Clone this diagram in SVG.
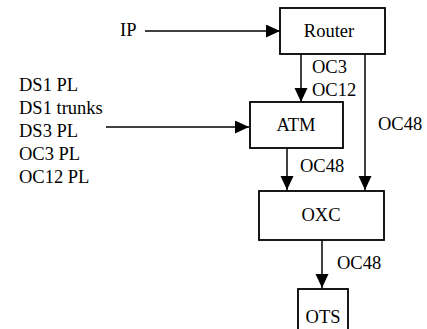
<svg xmlns="http://www.w3.org/2000/svg" width="427" height="329" viewBox="0 0 427 329" font-family="Liberation Serif, DejaVu Serif, serif" font-size="18.5">
<defs>
<style>
.box{fill:#fff;stroke:#000;stroke-width:1.8}
.c{text-anchor:middle}
.ln{fill:none;stroke:#000;stroke-width:1.5}
</style>
<marker id="ah" markerUnits="userSpaceOnUse" markerWidth="15" markerHeight="14" refX="14" refY="6.5" orient="auto">
<path d="M0,0 L14,6.5 L0,13 Z" fill="#000"/>
</marker>
</defs>
<g id="connectors">
<line class="ln" x1="145" y1="31" x2="280" y2="31" marker-end="url(#ah)"/>
<line class="ln" x1="106" y1="127" x2="249" y2="127" marker-end="url(#ah)"/>
<line class="ln" x1="301" y1="54" x2="301" y2="102" marker-end="url(#ah)"/>
<line class="ln" x1="365" y1="54" x2="365" y2="190" marker-end="url(#ah)"/>
<line class="ln" x1="287" y1="148" x2="287" y2="190" marker-end="url(#ah)"/>
<line class="ln" x1="322" y1="240" x2="322" y2="288" marker-end="url(#ah)"/>
<text x="312" y="73">OC3</text>
<text x="312" y="96">OC12</text>
<text x="378" y="130">OC48</text>
<text x="300" y="172">OC48</text>
<text x="337" y="269">OC48</text>
</g>
<g id="inputs">
<text x="120" y="36">IP</text>
<text x="19" y="90.5">DS1 PL</text>
<text x="19" y="113.5">DS1 trunks</text>
<text x="19" y="136.5">DS3 PL</text>
<text x="19" y="159.5">OC3 PL</text>
<text x="19" y="182.5">OC12 PL</text>
</g>
<g id="router">
<rect class="box" x="280" y="8" width="105" height="46"/>
<text class="c" x="329" y="37">Router</text>
</g>
<g id="atm">
<rect class="box" x="250" y="102" width="93" height="46"/>
<text class="c" x="296" y="131">ATM</text>
</g>
<g id="oxc">
<rect class="box" x="259" y="191" width="125" height="49"/>
<text class="c" x="321" y="221">OXC</text>
</g>
<g id="ots">
<rect class="box" x="298" y="289" width="50" height="45"/>
<text class="c" x="323" y="323">OTS</text>
</g>
</svg>
